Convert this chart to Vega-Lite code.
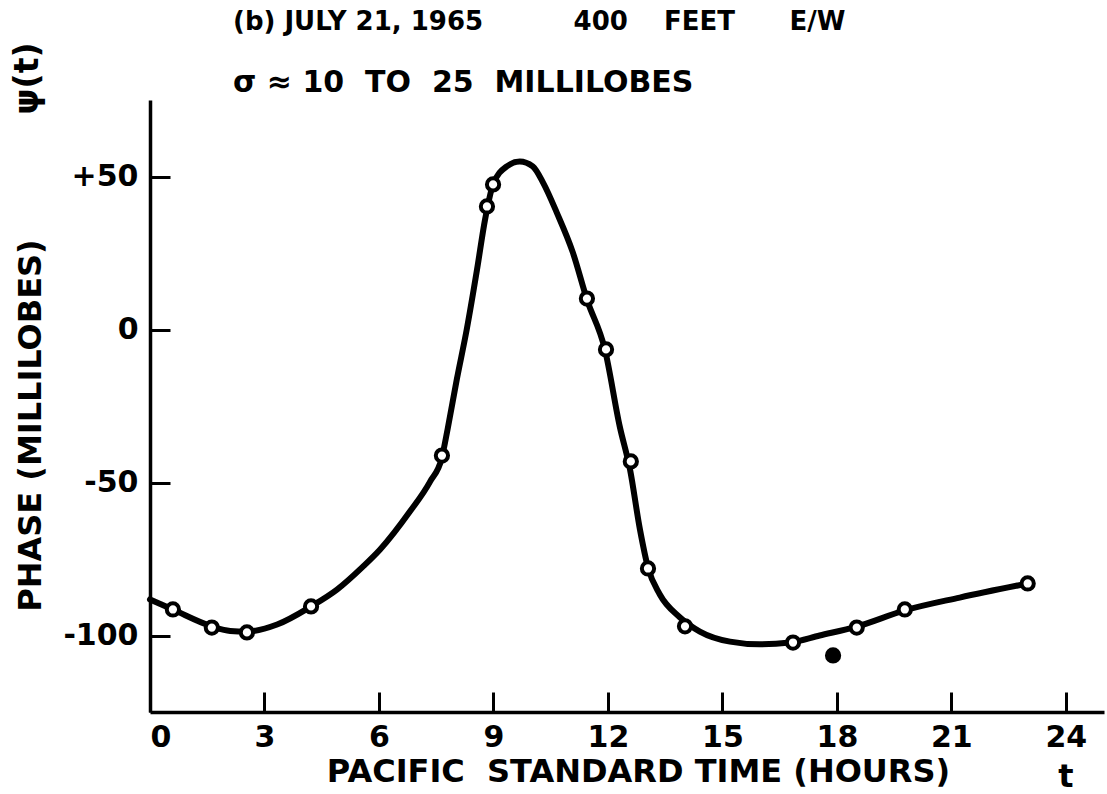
{
  "$schema": "https://vega.github.io/schema/vega-lite/v6.json",
  "width": 954,
  "height": 612,
  "autosize": {"type": "none"},
  "padding": {"left": 150, "top": 100, "right": 3, "bottom": 82},
  "background": "white",
  "title": {
    "text": "(b) JULY 21, 1965\u00a0\u00a0\u00a0\u00a0\u00a0\u00a0\u00a0\u00a0\u00a0\u00a0400\u00a0\u00a0\u00a0\u00a0FEET\u00a0\u00a0\u00a0\u00a0\u00a0\u00a0E/W",
    "subtitle": "σ ≈ 10\u00a0\u00a0TO\u00a0\u00a025\u00a0\u00a0MILLILOBES",
    "anchor": "start",
    "frame": "group",
    "dx": 83,
    "dy": 3,
    "offset": -52,
    "font": "DejaVu Sans",
    "fontSize": 26,
    "fontWeight": "bold",
    "color": "black",
    "subtitleFont": "DejaVu Sans",
    "subtitleFontSize": 30,
    "subtitleFontWeight": "bold",
    "subtitleColor": "black",
    "subtitlePadding": 33
  },
  "config": {
    "view": {"stroke": null},
    "font": "DejaVu Sans",
    "axis": {
      "grid": false,
      "domainColor": "black",
      "domainWidth": 3.5,
      "tickColor": "black",
      "tickWidth": 3,
      "tickSize": -20,
      "labelColor": "black",
      "labelFont": "DejaVu Sans",
      "labelFontWeight": "bold",
      "labelFontSize": 30,
      "titleColor": "black",
      "titleFont": "DejaVu Sans",
      "titleFontWeight": "bold"
    }
  },
  "datasets": {
    "curve": [
      {"hour": 0.0, "phase": -88.2},
      {"hour": 0.6, "phase": -91.5},
      {"hour": 1.62, "phase": -97.0},
      {"hour": 2.1, "phase": -98.5},
      {"hour": 2.54, "phase": -98.7},
      {"hour": 3.33, "phase": -96.4},
      {"hour": 4.22, "phase": -90.5},
      {"hour": 4.9, "phase": -85.0},
      {"hour": 5.58, "phase": -77.5},
      {"hour": 6.03, "phase": -71.9},
      {"hour": 6.81, "phase": -59.5},
      {"hour": 7.34, "phase": -49.7},
      {"hour": 7.65, "phase": -41.8},
      {"hour": 7.8, "phase": -32.5},
      {"hour": 8.04, "phase": -16.3},
      {"hour": 8.3, "phase": 0.0},
      {"hour": 8.57, "phase": 19.6},
      {"hour": 8.78, "phase": 35.9},
      {"hour": 8.99, "phase": 47.4},
      {"hour": 9.35, "phase": 53.3},
      {"hour": 9.69, "phase": 54.9},
      {"hour": 10.03, "phase": 53.3},
      {"hour": 10.3, "phase": 48.0},
      {"hour": 10.66, "phase": 38.2},
      {"hour": 11.08, "phase": 25.2},
      {"hour": 11.45, "phase": 9.8},
      {"hour": 11.92, "phase": -6.5},
      {"hour": 12.31, "phase": -31.7},
      {"hour": 12.58, "phase": -45.8},
      {"hour": 12.84, "phase": -65.4},
      {"hour": 13.05, "phase": -77.8},
      {"hour": 13.36, "phase": -86.6},
      {"hour": 13.89, "phase": -94.1},
      {"hour": 14.41, "phase": -98.7},
      {"hour": 15.2, "phase": -102.0},
      {"hour": 15.98, "phase": -102.9},
      {"hour": 16.77, "phase": -102.3},
      {"hour": 17.55, "phase": -100.0},
      {"hour": 18.52, "phase": -97.1},
      {"hour": 19.78, "phase": -91.8},
      {"hour": 21.22, "phase": -87.6},
      {"hour": 23.0, "phase": -83.0}
    ],
    "points": [
      {"hour": 0.6, "phase": -91.5, "kind": "open"},
      {"hour": 1.62, "phase": -97.4, "kind": "open"},
      {"hour": 2.54, "phase": -99.0, "kind": "open"},
      {"hour": 4.22, "phase": -90.5, "kind": "open"},
      {"hour": 7.65, "phase": -41.2, "kind": "open"},
      {"hour": 8.83, "phase": 40.2, "kind": "open"},
      {"hour": 8.99, "phase": 47.4, "kind": "open"},
      {"hour": 11.45, "phase": 10.1, "kind": "open"},
      {"hour": 11.95, "phase": -6.5, "kind": "open"},
      {"hour": 12.6, "phase": -43.1, "kind": "open"},
      {"hour": 13.05, "phase": -78.1, "kind": "open"},
      {"hour": 14.02, "phase": -97.0, "kind": "open"},
      {"hour": 16.85, "phase": -102.3, "kind": "open"},
      {"hour": 17.9, "phase": -106.5, "kind": "filled"},
      {"hour": 18.52, "phase": -97.4, "kind": "open"},
      {"hour": 19.78, "phase": -91.5, "kind": "open"},
      {"hour": 23.0, "phase": -83.0, "kind": "open"}
    ],
    "notes": [{"note": "annotation"}]
  },
  "layer": [
    {
      "data": {"name": "curve"},
      "mark": {"type": "line", "color": "black", "strokeWidth": 6, "interpolate": "monotone", "strokeCap": "round"},
      "encoding": {
        "x": {
          "field": "hour",
          "type": "quantitative",
          "scale": {"domain": [0, 25], "nice": false, "zero": false},
          "axis": {
            "values": [0, 3, 6, 9, 12, 15, 18, 21, 24],
            "labelPadding": 30,
            "title": "PACIFIC\u00a0\u00a0STANDARD TIME (HOURS)",
            "titleFontSize": 32,
            "titlePadding": 4,
            "titleX": 488
          }
        },
        "y": {
          "field": "phase",
          "type": "quantitative",
          "scale": {"domain": [-125, 75], "nice": false, "zero": false},
          "axis": {
            "values": [50, 0, -50, -100],
            "labelExpr": "datum.value > 0 ? '+' + datum.value : '' + datum.value",
            "labelPadding": 32,
            "title": "PHASE (MILLILOBES)",
            "titleFontSize": 32,
            "titleAngle": 270,
            "titleX": -120,
            "titleY": 325,
            "titleAlign": "center",
            "titleBaseline": "middle"
          }
        }
      }
    },
    {
      "data": {"name": "points"},
      "mark": {"type": "point", "shape": "circle", "filled": false, "stroke": "black", "strokeWidth": 4, "size": 150, "opacity": 1},
      "encoding": {
        "x": {"field": "hour", "type": "quantitative"},
        "y": {"field": "phase", "type": "quantitative"},
        "fill": {
          "field": "kind",
          "type": "nominal",
          "scale": {"domain": ["open", "filled"], "range": ["white", "black"]},
          "legend": null
        }
      }
    },
    {
      "data": {"name": "notes"},
      "mark": {"type": "text", "text": "ψ(t)", "angle": 270, "align": "center", "baseline": "middle", "font": "DejaVu Sans", "fontSize": 33, "fontWeight": "bold", "color": "black"},
      "encoding": {
        "x": {"datum": -3.2, "type": "quantitative"},
        "y": {"datum": 82, "type": "quantitative"}
      }
    },
    {
      "data": {"name": "notes"},
      "mark": {"type": "text", "text": "t", "align": "center", "baseline": "alphabetic", "font": "DejaVu Sans", "fontSize": 32, "fontWeight": "bold", "color": "black"},
      "encoding": {
        "x": {"datum": 24, "type": "quantitative"},
        "y": {"datum": -149.5, "type": "quantitative"}
      }
    }
  ]
}
